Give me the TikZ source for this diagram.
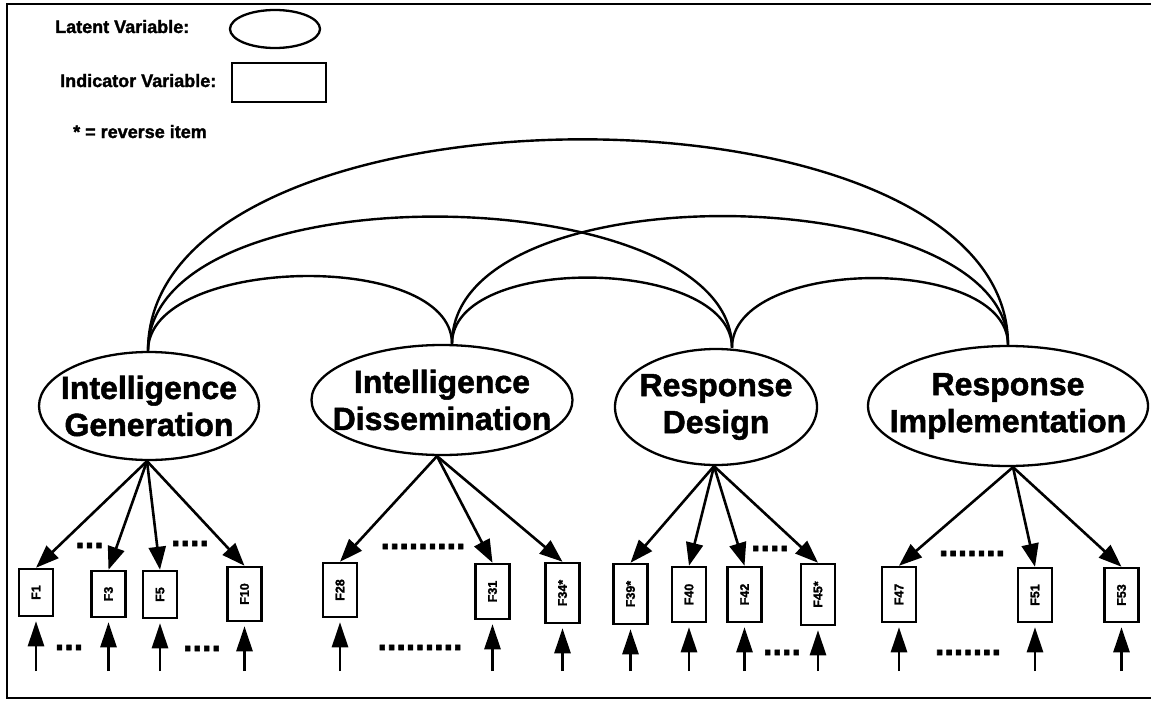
\documentclass[tikz,border=0pt]{standalone}
\usepackage{fontspec}
\setmainfont{Liberation Sans}[BoldFeatures={FakeBold=1.6}]
\usetikzlibrary{shapes.geometric,arrows.meta,calc}
\begin{document}
\begin{tikzpicture}[x=1pt,y=-1pt,
  every node/.style={font=\bfseries},
  legtext/.style={anchor=base west,inner sep=0pt,font=\bfseries\fontsize{18}{20}\selectfont},
  latent/.style={ellipse,draw,line width=2.3pt,inner sep=0pt},
  lattext/.style={align=center,inner sep=0pt,font=\bfseries\fontsize{32}{37}\selectfont},
  indic/.style={rectangle,draw,line width=2.5pt,inner sep=0pt,minimum width=34pt,
                font=\bfseries\fontsize{12.5}{12.5}\selectfont},
  load/.style={line width=2.6pt,-{Triangle[length=23pt,width=17pt]}},
  err/.style={line width=2.6pt,-{Triangle[length=25pt,width=16pt]},shorten >=4pt},
  cov/.style={line width=2.4pt},
  dotrow/.style={anchor=base,inner sep=0pt,font=\bfseries\fontsize{34}{34}\selectfont}
]
\useasboundingbox (0,0) rectangle (1151,701);

% frame (open on the right)
\draw[line width=2.4pt] (1151,4) -- (7,4) -- (7,698) -- (1151,698);

% legend
\node[legtext] (legL) at (55,33) {Latent Variable:};
\node[latent,minimum width=90pt,minimum height=38pt] (legE) at (275,29) {};
\node[legtext] (legI) at (60,87) {Indicator Variable:};
\node[draw,line width=2.3pt,minimum width=94pt,minimum height=39pt,inner sep=0pt] (legR) at (279,82.5) {};
\node[legtext] (legS) at (73,138) {* = reverse item};

% latent variables
\node[latent,minimum width=220pt,minimum height=108pt,
      label={[lattext]center:{Intelligence\\Generation}}] (IG) at (149,406) {};
\node[latent,minimum width=261pt,minimum height=110pt,
      label={[lattext]center:{Intelligence\\Dissemination}}] (ID) at (442,400) {};
\node[latent,minimum width=202pt,minimum height=116pt,
      label={[lattext]center:{Response\\Design}}] (RD) at (716,407) {};
\node[latent,minimum width=280pt,minimum height=120pt,
      label={[lattext]center:{Response\\Implementation}}] (RI) at (1008,406) {};

% attachment points of the covariance arcs and of the loadings
\coordinate (IGt) at ([xshift=-1pt]IG.north);
\coordinate (IDt) at ([xshift=10pt]ID.north);
\coordinate (RDt) at ([xshift=16pt]RD.north);
\coordinate (RIt) at (RI.north);
\coordinate (IGb) at ([xshift=-2pt]IG.south);
\coordinate (IDb) at ([xshift=-5pt]ID.south);
\coordinate (RDb) at ([xshift=-2pt]RD.south);
\coordinate (RIb) at ([xshift=5pt]RI.south);

% covariances between the factors
\draw[cov] (IGt) .. controls +(0,-95) and +(0,-95) .. (IDt);
\draw[cov] (IDt) .. controls +(0,-91) and +(0,-91) .. (RDt);
\draw[cov] (RDt) .. controls +(0,-91) and +(0,-91) .. (RIt);
\draw[cov] (IGt) .. controls +(0,-184) and +(0,-170) .. (RDt);
\draw[cov] (IDt) .. controls +(0,-176) and +(0,-166) .. (RIt);
\draw[cov] (IGt) .. controls +(0,-280) and +(0,-276) .. (RIt);

% indicator variables
\foreach \n/\x/\y/\h/\t in {
  F1/36/592.5/47pt/F1, F3/108.5/594/46pt/F3, F5/160/594.5/47pt/F5,
  F10/244.5/594/54pt/F10, F28/340/590/54pt/F28, F31/492.5/591.5/55pt/F31,
  F34/562.5/593/60pt/F34*, F39/630.5/594/60pt/F39*, F40/689/594.5/55pt/F40,
  F42/744.5/594.5/55pt/F42, F45/818/594.5/61pt/F45*, F47/899/594.5/55pt/F47,
  F51/1035/595/54pt/F51, F53/1121.5/595/54pt/F53}
  \node[indic,minimum height=\h] (\n) at (\x,\y) {\rotatebox{90}{\t}};

% loadings
\foreach \n in {F1,F3,F5,F10} \draw[load] (IGb) -- (\n.north);
\foreach \n in {F28,F31,F34} \draw[load] (IDb) -- (\n.north);
\foreach \n in {F39,F40,F42,F45} \draw[load] (RDb) -- (\n.north);
\foreach \n in {F47,F51,F53} \draw[load] (RIb) -- (\n.north);

% error terms
\coordinate (tailrow) at (0,671);
\foreach \n in {F1,F3,F5,F10,F28,F31,F34,F39,F40,F42,F45,F47,F51,F53}
  \draw[err] (\n.south |- tailrow) -- (\n.south);

% omitted indicators
\node[dotrow] (d1) at (89.5,548) {...};
\node[dotrow] (d2) at (190,546) {....};
\node[dotrow] (d3) at (423,549) {.........};
\node[dotrow] (d4) at (770,551) {....};
\node[dotrow] (d5) at (972,556) {.......};
\node[dotrow] (e1) at (69,650) {...};
\node[dotrow] (e2) at (202,651) {....};
\node[dotrow] (e3) at (420,650) {.........};
\node[dotrow] (e4) at (782,655) {....};
\node[dotrow] (e5) at (968,655) {.......};
\end{tikzpicture}
\end{document}
